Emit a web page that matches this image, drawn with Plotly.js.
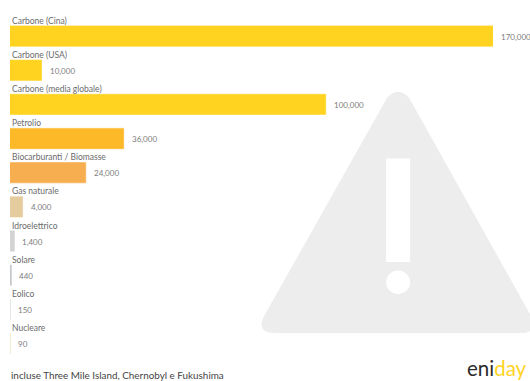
<!DOCTYPE html>
<html>
<head>
<meta charset="utf-8">
<script src="https://cdn.plot.ly/plotly-3.0.1.min.js"></script>
<style>html,body{margin:0;padding:0;background:#fff;overflow:hidden}</style>
</head>
<body>
<div id="chart" style="width:530px;height:381px"></div>
<script>
// Deaths per unit of energy produced, by source
const sources = ["Carbone (Cina)", "Carbone (USA)", "Carbone (media globale)", "Petrolio",
  "Biocarburanti / Biomasse", "Gas naturale", "Idroelettrico", "Solare", "Eolico", "Nucleare"];
const deaths = [170000, 10000, 100000, 36000, 24000, 4000, 1400, 440, 150, 90];
const barColors = ["#FFD31F", "#FFD31F", "#FFD31F", "#FDB928", "#F7AE50", "#E5CC9E",
  "#D4D4D4", "#C6C9CD", "#E2E2DC", "#E8E4C0"];
const footnote = "incluse Three Mile Island, Chernobyl e Fukushima";

// The axis stops short of the largest value, so the Cina bar runs into the plot edge
const axisMax = 153000;

const W = 530, H = 381;
const margin = {l: 9.5, r: 37, t: 19.2, b: 15.1};
const px = x => (x - margin.l) / (W - margin.l - margin.r);
const py = y => 1 - (y - margin.t) / (H - margin.t - margin.b);
const pt = (x, y) => px(x).toFixed(4) + "," + py(y).toFixed(4);

const font = "Lato, 'Open Sans', sans-serif";

// A hairline outline keeps the smallest values visible
const bars = {
  type: "bar",
  orientation: "h",
  y: sources,
  x: deaths,
  marker: {color: barColors, line: {width: 0.6, color: barColors}},
  hoverinfo: "x+y"
};

// Source names sit above their bars, values just past the bar ends
const nameLabels = sources.map(s => ({
  xref: "paper", yref: "y", x: 0, y: s, xshift: -0.5, yshift: 15.5,
  xanchor: "left", yanchor: "middle", showarrow: false, text: s,
  font: {family: font, size: 8.5, color: "#6b6b6b"}
}));
const valueLabels = deaths.map((v, i) => ({
  xref: "x", yref: "y", x: Math.min(v, axisMax), y: sources[i], xshift: 6, yshift: -0.5,
  xanchor: "left", yanchor: "middle", showarrow: false,
  text: v.toLocaleString("en-US"),
  font: {family: font, size: 8, color: "#7d7d7d"}
}));
const footer = [
  {xref: "paper", yref: "paper", x: px(8), y: py(374.5), xanchor: "left", yanchor: "middle",
   showarrow: false, text: footnote, font: {family: font, size: 9.9, color: "#444"}},
  {xref: "paper", yref: "paper", x: px(529), y: py(368), xanchor: "right", yanchor: "middle",
   showarrow: false, text: '<span style="color:#2b2b2b">eni</span><span style="color:#FFD31F">day</span>',
   font: {family: font, size: 20.5}}
];

// Warning sign behind the chart
const triangle = "M " + pt(387, 98) + " Q " + pt(398, 86) + " " + pt(409, 98) +
  " L " + pt(530, 314) + " Q " + pt(541, 333) + " " + pt(520, 333) +
  " L " + pt(275, 333) + " Q " + pt(254, 333) + " " + pt(265, 314) + " Z";
const shapes = [
  {type: "path", xref: "paper", yref: "paper", layer: "below", path: triangle,
   fillcolor: "#EDEDED", line: {width: 0}},
  {type: "rect", xref: "paper", yref: "paper", layer: "below",
   x0: px(386), x1: px(410), y0: py(262), y1: py(158.5), fillcolor: "#FFFFFF", line: {width: 0}},
  {type: "circle", xref: "paper", yref: "paper", layer: "below",
   x0: px(386), x1: px(410), y0: py(294), y1: py(270.5), fillcolor: "#FFFFFF", line: {width: 0}}
];

const layout = {
  width: W, height: H,
  margin: {l: margin.l, r: margin.r, t: margin.t, b: margin.b, pad: 0},
  paper_bgcolor: "#fff", plot_bgcolor: "rgba(0,0,0,0)",
  showlegend: false,
  bargap: 0.405,
  xaxis: {range: [0, axisMax], visible: false, fixedrange: true},
  yaxis: {autorange: "reversed", visible: false, fixedrange: true, type: "category"},
  annotations: nameLabels.concat(valueLabels, footer),
  shapes: shapes
};

Plotly.newPlot("chart", [bars], layout, {displayModeBar: false, staticPlot: true});
</script>
</body>
</html>
